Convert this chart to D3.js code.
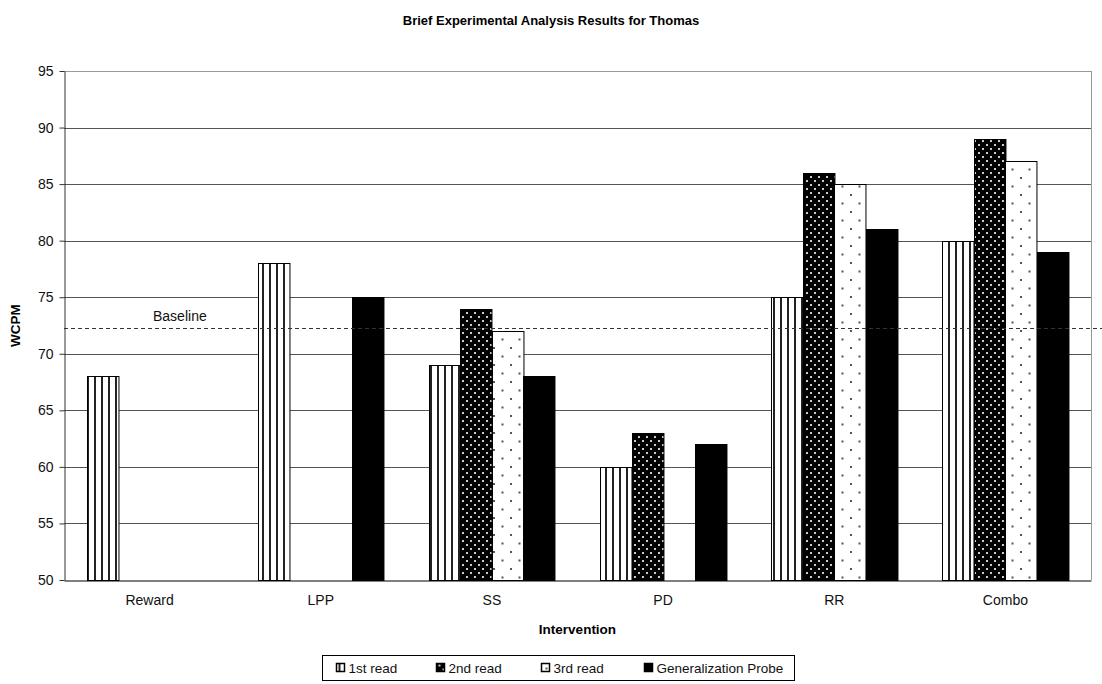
<!DOCTYPE html>
<html>
<head>
<meta charset="utf-8">
<script src="https://cdn.jsdelivr.net/npm/d3@7"></script>
<style>
  body { margin: 0; background: #fff; }
  svg { font-family: "Liberation Sans", Arial, sans-serif; }
</style>
</head>
<body>
<div id="chart"></div>
<script>
// Data
const categories = ["Reward", "LPP", "SS", "PD", "RR", "Combo"];
const seriesNames = ["1st read", "2nd read", "3rd read", "Generalization Probe"];
const firstRead = [68, 78, 69, 60, 75, 80];
const secondRead = [null, null, 74, 63, 86, 89];
const thirdRead = [null, null, 72, null, 85, 87];
const genProbe = [null, 75, 68, 62, 81, 79];
const baseline = 72.25;
const yTicks = [50, 55, 60, 65, 70, 75, 80, 85, 90, 95];

const seriesValues = [firstRead, secondRead, thirdRead, genProbe];
const fills = ["url(#p1)", "url(#p2)", "url(#p3)", "#000"];

const W = 1102, H = 684;
const margin = { top: 71, right: 11, bottom: 104, left: 64 };
const width = W - margin.left - margin.right;
const height = H - margin.top - margin.bottom;

const svg = d3.select("#chart").append("svg")
    .attr("width", W)
    .attr("height", H);

// Patterns
const defs = svg.append("defs");
const p1 = defs.append("pattern").attr("id", "p1").attr("patternUnits", "userSpaceOnUse")
    .attr("width", 7).attr("height", 7);
p1.append("rect").attr("width", 7).attr("height", 7).attr("fill", "#fff");
p1.append("rect").attr("x", 2).attr("width", 2).attr("height", 7).attr("fill", "#222");

const p2 = defs.append("pattern").attr("id", "p2").attr("patternUnits", "userSpaceOnUse")
    .attr("width", 8).attr("height", 8);
p2.append("rect").attr("width", 8).attr("height", 8).attr("fill", "#000");
p2.append("rect").attr("x", 2).attr("y", 1).attr("width", 2).attr("height", 2).attr("fill", "#ccc");
p2.append("rect").attr("x", 6).attr("y", 5).attr("width", 2).attr("height", 2).attr("fill", "#ccc");

const p3 = defs.append("pattern").attr("id", "p3").attr("patternUnits", "userSpaceOnUse")
    .attr("width", 17).attr("height", 17);
p3.append("rect").attr("width", 17).attr("height", 17).attr("fill", "#fff");
p3.append("rect").attr("x", 4).attr("y", 4).attr("width", 2).attr("height", 2).attr("fill", "#555");
p3.append("rect").attr("x", 12.5).attr("y", 12.5).attr("width", 2).attr("height", 2).attr("fill", "#555");

// Title
svg.append("text")
    .attr("x", W / 2).attr("y", 25)
    .attr("text-anchor", "middle")
    .attr("font-size", 13).attr("font-weight", "bold")
    .text("Brief Experimental Analysis Results for Thomas");

const g = svg.append("g").attr("transform", `translate(${margin.left},${margin.top})`);

// Scales
const x0 = d3.scaleBand().domain(categories).range([0, width]).paddingInner(0).paddingOuter(0);
const x1 = d3.scaleBand().domain(d3.range(seriesNames.length))
    .range([0, x0.bandwidth()]).paddingOuter(0.72).paddingInner(0);
const y = d3.scaleLinear().domain([50, 95]).range([height, 0]);

// Grid
g.append("g").selectAll("line").data(yTicks.slice(1)).enter().append("line")
    .attr("x1", 0).attr("x2", width)
    .attr("y1", d => Math.round(y(d)) + 0.5).attr("y2", d => Math.round(y(d)) + 0.5)
    .attr("stroke", (d, i) => d === 95 ? "#999" : "#555");

// Right border
g.append("line").attr("x1", width + 0.5).attr("x2", width + 0.5)
    .attr("y1", 0).attr("y2", height).attr("stroke", "#999");

// Y axis
const yAxis = g.append("g")
    .attr("transform", "translate(0.5,0)")
    .call(d3.axisLeft(y).tickValues(yTicks).tickSize(5).tickSizeOuter(0));
yAxis.select(".domain").attr("stroke", "#333");
yAxis.selectAll(".tick line").attr("stroke", "#333");
yAxis.selectAll("text").attr("font-size", 14).attr("fill", "#111")
    .attr("font-family", "Liberation Sans, Arial, sans-serif").attr("x", -11);

// Bars
const barData = [];
categories.forEach((c, ci) => {
    seriesValues.forEach((vals, si) => {
        if (vals[ci] != null) barData.push({ cat: c, s: si, v: vals[ci] });
    });
});

g.selectAll(".bar").data(barData).enter().append("rect")
    .attr("class", "bar")
    .attr("x", d => Math.round(x0(d.cat) + x1(d.s)) + 0.5)
    .attr("y", d => Math.round(y(d.v)) + 0.5)
    .attr("width", x1.bandwidth())
    .attr("height", d => height - Math.round(y(d.v)))
    .attr("fill", d => fills[d.s])
    .attr("stroke", "#000").attr("stroke-width", 1);

// X axis
const xAxis = g.append("g")
    .attr("transform", `translate(0,${height + 0.5})`)
    .call(d3.axisBottom(x0).tickSize(0).tickPadding(15));
xAxis.select(".domain").attr("stroke", "#000");
xAxis.selectAll("text").attr("font-size", 14).attr("fill", "#111")
    .attr("font-family", "Liberation Sans, Arial, sans-serif");

// Baseline
g.append("line")
    .attr("x1", 0).attr("x2", W - margin.left)
    .attr("y1", Math.round(y(baseline)) + 0.5).attr("y2", Math.round(y(baseline)) + 0.5)
    .attr("stroke", "#333").attr("stroke-dasharray", "4,3");
g.append("text")
    .attr("x", 89).attr("y", y(baseline) - 7)
    .attr("font-size", 14).attr("fill", "#111")
    .text("Baseline");

// Axis titles
svg.append("text")
    .attr("x", margin.left + width / 2).attr("y", 634)
    .attr("text-anchor", "middle")
    .attr("font-size", 13.5).attr("font-weight", "bold")
    .text("Intervention");

svg.append("text")
    .attr("transform", `translate(20,${margin.top + y(72.5)}) rotate(-90)`)
    .attr("text-anchor", "middle")
    .attr("font-size", 13.5).attr("font-weight", "bold")
    .text("WCPM");

// Legend
const legend = svg.append("g").attr("transform", "translate(322.5,655.5)");
legend.append("rect").attr("width", 472).attr("height", 25)
    .attr("fill", "#fff").attr("stroke", "#000");
const legX = [14, 114, 219, 322];
const items = legend.selectAll(".item").data(seriesNames).enter().append("g")
    .attr("transform", (d, i) => `translate(${legX[i]},8)`);
items.append("rect").attr("width", 8).attr("height", 8)
    .attr("fill", (d, i) => fills[i]).attr("stroke", "#000").attr("stroke-width", 1.5);
items.append("text").attr("x", 12).attr("y", 9.5)
    .attr("font-size", 13.5).attr("fill", "#111")
    .text(d => d);
</script>
</body>
</html>
